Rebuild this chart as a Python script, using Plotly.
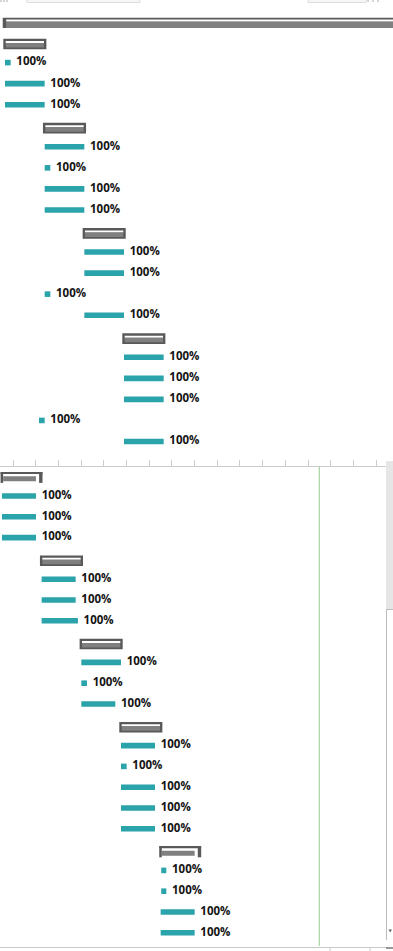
import plotly.graph_objects as go

W, H = 393, 951

# ---------------- data : upper pane ----------------
TOP_PROJECT_ROW = [0]
TOP_PROJECT_START = [-0.4]
TOP_PROJECT_END = [80]

TOP_SUMMARY_ROW = [1, 5, 10, 15]
TOP_SUMMARY_START = [0, 7, 14, 21]
TOP_SUMMARY_END = [7, 14, 21, 28]

TOP_TASK_ROW = [2, 3, 4, 6, 7, 8, 9, 11, 12, 13, 14, 16, 17, 18, 19, 20]
TOP_TASK_START = [0, 0, 0, 7, 7, 7, 7, 14, 14, 7, 14, 21, 21, 21, 6, 21]
TOP_TASK_END = [1, 7, 7, 14, 8, 14, 14, 21, 21, 8, 21, 28, 28, 28, 7, 28]
TOP_TASK_PCT = [100, 100, 100, 100, 100, 100, 100, 100, 100, 100, 100, 100, 100, 100, 100, 100]

# ---------------- data : lower pane ----------------
BOT_BRACKET_ROW = [0, 18]
BOT_BRACKET_START = [2, 30]
BOT_BRACKET_END = [9, 37]
BOT_BRACKET_FILL_END = [8, 36]

BOT_SUMMARY_ROW = [4, 8, 12]
BOT_SUMMARY_START = [9, 16, 23]
BOT_SUMMARY_END = [16, 23, 30]

BOT_TASK_ROW = [1, 2, 3, 5, 6, 7, 9, 10, 11, 13, 14, 15, 16, 17, 19, 20, 21, 22]
BOT_TASK_START = [2, 2, 2, 9, 9, 9, 16, 16, 16, 23, 23, 23, 23, 23, 30.1, 30.1, 30, 30]
BOT_TASK_END = [8, 8, 8, 15, 15, 15.4, 23, 17, 22, 29, 24, 29, 29, 29, 31, 31, 36, 36]
BOT_TASK_PCT = [100, 100, 100, 100, 100, 100, 100, 100, 100, 100, 100, 100, 100, 100, 100, 100, 100, 100]

STATUS_DATE = 58
TIMESCALE_STEP = 4

# ---------------- styles / geometry ----------------
TEAL = "#2aa3ab"
DARK = "#595959"
GREY = "#808080"
WHITE = "#ffffff"
LABEL_GAP = 1.0
FONT = dict(family="Open Sans", size=11.5, color="#141414", weight="bold")

TOP_PX0, TOP_PX1 = 0, 457
TOP_ROW0, TOP_ROWPX = 20.5, 21.05
BOT_PX0, BOT_PX1 = 467, 946
BOT_ROW0, BOT_ROWPX = 475.2, 20.8
SUM_SHIFT = 2.4
BOT_RIGHT = 386


def py(p):
    return 1 - p / H


def px(p):
    return p / W


def bar_layer(rows, starts, ends, top, bot, color, xa, ya, rowpx, shift=0.0):
    return go.Bar(
        orientation="h", y=rows, base=starts,
        x=[e - s for s, e in zip(starts, ends)],
        width=(bot - top) / rowpx, offset=(shift + top) / rowpx,
        marker=dict(color=color, line=dict(width=0)),
        xaxis=xa, yaxis=ya, hoverinfo="skip", showlegend=False,
    )


def labels(rows, ends, pcts, xa, ya):
    return go.Scatter(
        x=[e + LABEL_GAP for e in ends], y=rows, text=[f"{p}%" for p in pcts],
        mode="text", textposition="middle right", textfont=FONT,
        xaxis=xa, yaxis=ya, hoverinfo="skip", showlegend=False, cliponaxis=False,
    )


def shifted(vals, d):
    return [v + d for v in vals]


traces = []

# ---- upper pane ----
xa, ya, rp = "x", "y", TOP_ROWPX
traces += [
    bar_layer(TOP_PROJECT_ROW, TOP_PROJECT_START, TOP_PROJECT_END, -5.2, 5.2, DARK, xa, ya, rp, SUM_SHIFT),
    bar_layer(TOP_PROJECT_ROW, shifted(TOP_PROJECT_START, 0.6), TOP_PROJECT_END, -3.3, -1.3, WHITE, xa, ya, rp, SUM_SHIFT),
    bar_layer(TOP_PROJECT_ROW, shifted(TOP_PROJECT_START, 0.6), TOP_PROJECT_END, -0.8, 5.2, GREY, xa, ya, rp, SUM_SHIFT),
    bar_layer(TOP_SUMMARY_ROW, shifted(TOP_SUMMARY_START, -0.3), shifted(TOP_SUMMARY_END, 0.3), -5.3, 5.3, DARK, xa, ya, rp, SUM_SHIFT),
    bar_layer(TOP_SUMMARY_ROW, shifted(TOP_SUMMARY_START, 0.12), shifted(TOP_SUMMARY_END, -0.12), -3.0, -1.0, WHITE, xa, ya, rp, SUM_SHIFT),
    bar_layer(TOP_SUMMARY_ROW, shifted(TOP_SUMMARY_START, 0.12), shifted(TOP_SUMMARY_END, -0.12), -1.0, 3.5, GREY, xa, ya, rp, SUM_SHIFT),
    bar_layer(TOP_TASK_ROW, TOP_TASK_START, TOP_TASK_END, -2.8, 2.8, TEAL, xa, ya, rp),
    labels(TOP_TASK_ROW, TOP_TASK_END, TOP_TASK_PCT, xa, ya),
]

# ---- lower pane ----
xa, ya, rp = "x2", "y2", BOT_ROWPX
bs = shifted(BOT_BRACKET_START, -0.25)
be = shifted(BOT_BRACKET_END, 0.15)
traces += [
    bar_layer(BOT_BRACKET_ROW, bs, be, -5.3, -3.7, DARK, xa, ya, rp, SUM_SHIFT),
    bar_layer(BOT_BRACKET_ROW, bs, shifted(bs, 0.45), -5.3, 5.3, DARK, xa, ya, rp, SUM_SHIFT),
    bar_layer(BOT_BRACKET_ROW, shifted(be, -0.6), be, -5.3, 5.3, DARK, xa, ya, rp, SUM_SHIFT),
    bar_layer(BOT_BRACKET_ROW, shifted(bs, 0.45), BOT_BRACKET_FILL_END, -1.3, 3.7, GREY, xa, ya, rp, SUM_SHIFT),
    bar_layer(BOT_SUMMARY_ROW, shifted(BOT_SUMMARY_START, -0.3), shifted(BOT_SUMMARY_END, 0.3), -5.3, 5.3, DARK, xa, ya, rp, SUM_SHIFT),
    bar_layer(BOT_SUMMARY_ROW, shifted(BOT_SUMMARY_START, 0.12), shifted(BOT_SUMMARY_END, -0.12), -3.0, -1.0, WHITE, xa, ya, rp, SUM_SHIFT),
    bar_layer(BOT_SUMMARY_ROW, shifted(BOT_SUMMARY_START, 0.12), shifted(BOT_SUMMARY_END, -0.12), -1.0, 3.5, GREY, xa, ya, rp, SUM_SHIFT),
    bar_layer(BOT_TASK_ROW, BOT_TASK_START, BOT_TASK_END, -2.8, 2.8, TEAL, xa, ya, rp),
    labels(BOT_TASK_ROW, BOT_TASK_END, BOT_TASK_PCT, xa, ya),
]

fig = go.Figure(traces)

UNIT_PX = 393 / 69.35
top_x0 = -5 / UNIT_PX
bot_x0 = 1.65

fig.update_layout(
    width=W, height=H, margin=dict(l=0, r=0, t=0, b=0),
    paper_bgcolor="white", plot_bgcolor="white", barmode="overlay",
    showlegend=False,
    xaxis=dict(domain=[0, 1], range=[top_x0, top_x0 + W / UNIT_PX], visible=False, anchor="y"),
    yaxis=dict(domain=[py(TOP_PX1), py(TOP_PX0)],
               range=[(TOP_PX1 - TOP_ROW0) / TOP_ROWPX, (TOP_PX0 - TOP_ROW0) / TOP_ROWPX],
               visible=False, anchor="x"),
    xaxis2=dict(domain=[0, px(BOT_RIGHT)], range=[bot_x0, bot_x0 + BOT_RIGHT / UNIT_PX],
                anchor="y2", side="top", showline=True, linecolor="#cccccc", linewidth=1,
                ticks="outside", ticklen=6, tickcolor="#cccccc", tickwidth=1,
                tick0=0, dtick=TIMESCALE_STEP, showticklabels=False,
                showgrid=False, zeroline=False),
    yaxis2=dict(domain=[py(BOT_PX1), py(BOT_PX0)],
                range=[(BOT_PX1 - BOT_ROW0) / BOT_ROWPX, (BOT_PX0 - BOT_ROW0) / BOT_ROWPX],
                visible=False, anchor="x2"),
)

shapes = [
    # status date line
    dict(type="line", xref="x2", yref="y2 domain", x0=STATUS_DATE, x1=STATUS_DATE, y0=0, y1=1,
         line=dict(color="#a6d4a3", width=1.2)),
    # vertical scrollbar of lower pane
    dict(type="rect", xref="paper", yref="paper", x0=px(386), x1=px(393), y0=py(609), y1=py(461),
         fillcolor="#e6e6e6", line=dict(width=0), layer="above"),
    dict(type="line", xref="paper", yref="paper", x0=px(386.5), x1=px(386.5), y0=py(940), y1=py(609),
         line=dict(color="#bdbdbd", width=1)),
    dict(type="line", xref="paper", yref="paper", x0=px(386), x1=px(393), y0=py(609.5), y1=py(609.5),
         line=dict(color="#bdbdbd", width=1)),
    dict(type="path", xref="paper", yref="paper",
         path=f"M {px(388.5)} {py(929.5)} L {px(392)} {py(929.5)} L {px(390.2)} {py(932.5)} Z",
         fillcolor="#666666", line=dict(width=0)),
    # bottom edge
    dict(type="line", xref="paper", yref="paper", x0=0, x1=px(386), y0=py(947.5), y1=py(947.5),
         line=dict(color="#c8c8c8", width=1)),
    dict(type="line", xref="paper", yref="paper", x0=px(330), x1=px(330), y0=py(951), y1=py(947.5),
         line=dict(color="#c8c8c8", width=1)),
    dict(type="line", xref="paper", yref="paper", x0=px(370), x1=px(370), y0=py(951), y1=py(947.5),
         line=dict(color="#c8c8c8", width=1)),
    dict(type="line", xref="paper", yref="paper", x0=px(386), x1=px(393), y0=py(948), y1=py(948),
         line=dict(color="#777777", width=1.5)),
    # remnants of the upper header
    dict(type="rect", xref="paper", yref="paper", x0=px(27), x1=px(140), y0=py(2.5), y1=py(-1),
         fillcolor="#f6f6f6", line=dict(color="#dddddd", width=1)),
    dict(type="rect", xref="paper", yref="paper", x0=px(308), x1=px(366), y0=py(2.5), y1=py(-1),
         fillcolor="#f6f6f6", line=dict(color="#dddddd", width=1)),
]
for xx in [1, 4, 7, 368, 373, 378]:
    shapes.append(dict(type="line", xref="paper", yref="paper", x0=px(xx), x1=px(xx), y0=py(2), y1=py(0),
                       line=dict(color="#aaaaaa", width=1)))
fig.update_layout(shapes=shapes)

fig.write_html("out.html")
